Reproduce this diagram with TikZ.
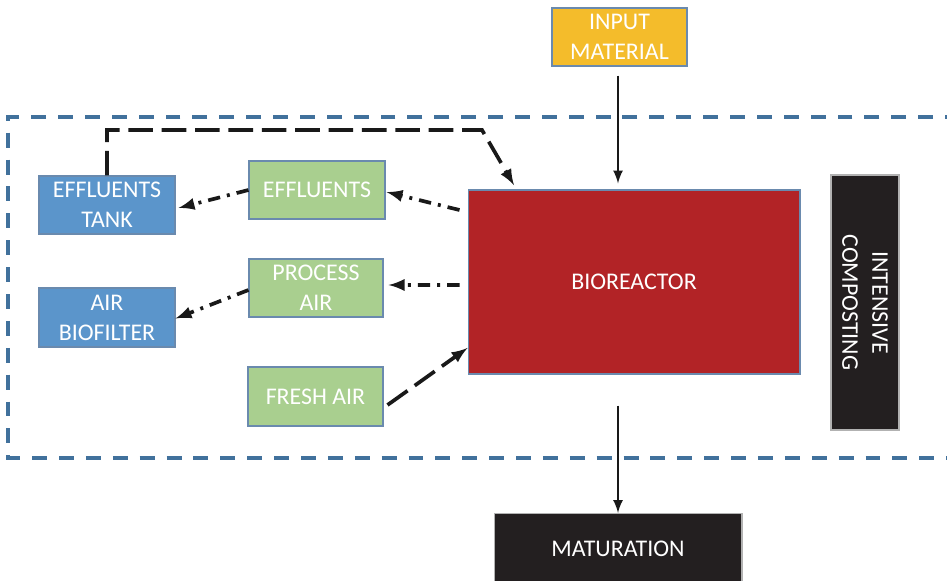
\documentclass[tikz,border=0pt]{standalone}
\usepackage{fontspec}
\setmainfont{Carlito}
\usepackage{tikz}
\usetikzlibrary{arrows, calc, positioning}
\definecolor{inputFill}{HTML}{F4BC2B}
\definecolor{boxEdge}{HTML}{6A8AAE}
\definecolor{tankFill}{HTML}{5B95CB}
\definecolor{airFill}{HTML}{A9CF8F}
\definecolor{reactorFill}{HTML}{B22326}
\definecolor{darkFill}{HTML}{231F20}
\definecolor{frameBlue}{HTML}{41719C}
\tikzset{
    baseBox/.style={rectangle, draw=boxEdge, line width=0.6pt, text=white, align=center, inner sep=1pt, font=\fontsize{13.6}{17}\selectfont},
    inputBox/.style={baseBox, fill=inputFill, minimum width=2.7cm, minimum height=1.16cm},
    tankBox/.style={baseBox, fill=tankFill, minimum width=2.72cm, minimum height=1.16cm},
    airBox/.style={baseBox, fill=airFill, minimum width=2.7cm, minimum height=1.16cm},
    reactorBox/.style={baseBox, fill=reactorFill, minimum width=6.64cm, minimum height=3.68cm},
    darkBox/.style={baseBox, draw=gray!60, fill=darkFill},
    flowSolid/.style={->, >=latex, line width=1.5pt, black!90},
    flowDashed/.style={->, >=latex, line width=2.1pt, black!90, dash pattern=on 14pt off 5pt},
    flowDashDot/.style={->, >=latex, line width=2.1pt, black!90, dash pattern=on 7pt off 4pt on 1.7pt off 4pt},
    frameLine/.style={frameBlue, line width=2.3pt, dash pattern=on 8.5pt off 6.8pt},
}
\newcommand{\drawFlow}[3][flowDashDot]{
    \draw[#1] (#2) -- (#3);
}

\begin{document}
\begin{tikzpicture}[x=0.02cm, y=-0.02cm]

    \useasboundingbox (0, 0) rectangle (947, 581);

    % dashed frame round the intensive stage
    \draw[frameLine] (960, 117) -- (8, 117) -- (8, 458) -- (960, 458);

    \node[inputBox] (input) at (619.5, 37) {INPUT\\MATERIAL};
    \node[reactorBox] (bio) at (634, 282) {BIOREACTOR};
    \node[darkBox, minimum width=1.36cm, minimum height=5.1cm] (intensive) at (865, 302.5) {};
    \node[rotate=-90, text=white, align=center, font=\fontsize{13.6}{17}\selectfont] (intensiveText) at (intensive.center) {INTENSIVE\\COMPOSTING};
    \node[darkBox, anchor=north, minimum width=4.96cm, minimum height=1.4cm] (mat) at (618, 513) {MATURATION};

    \node[tankBox] (tank) at (107, 205) {EFFLUENTS\\TANK};
    \node[tankBox, minimum height=1.18cm] (filter) at (107, 317.5) {AIR\\BIOFILTER};
    \node[airBox, minimum width=2.72cm] (eff) at (317, 190) {EFFLUENTS};
    \node[airBox, minimum width=2.68cm] (proc) at (316, 288) {PROCESS\\AIR};
    \node[airBox, minimum height=1.18cm] (fresh) at (315.5, 396.5) {FRESH AIR};

    \coordinate (bend) at (482, 130);
    \coordinate (bioIn) at ($(bio.north west)+(49, 0)$);

    % main line
    \draw[flowSolid, shorten <=0.18cm, shorten >=0.12cm] (input.south -| 618, 0) -- (bio.north -| 618, 0);
    \draw[flowSolid, shorten <=0.62cm] (bio.south -| mat.north) -- (mat.north);

    % side flows
    \draw[flowDashed, shorten >=0.1cm] (tank.north) |- (bend) -- (bioIn);
    \drawFlow{[xshift=-0.16cm, yshift=1.44cm]bio.west}{[xshift=0.02cm, yshift=-0.04cm]eff.east}
    \drawFlow{eff.west}{[xshift=0.06cm, yshift=-0.06cm]tank.east}
    \drawFlow{[xshift=-0.16cm, yshift=-0.06cm]bio.west}{[xshift=0.1cm, yshift=0.06cm]proc.east}
    \drawFlow{[yshift=-0.04cm]proc.west}{[yshift=-0.02cm]filter.east}
    \drawFlow[flowDashed]{[xshift=0.08cm, yshift=-0.17cm]fresh.east}{[yshift=-1.32cm]bio.west}

\end{tikzpicture}
\end{document}
